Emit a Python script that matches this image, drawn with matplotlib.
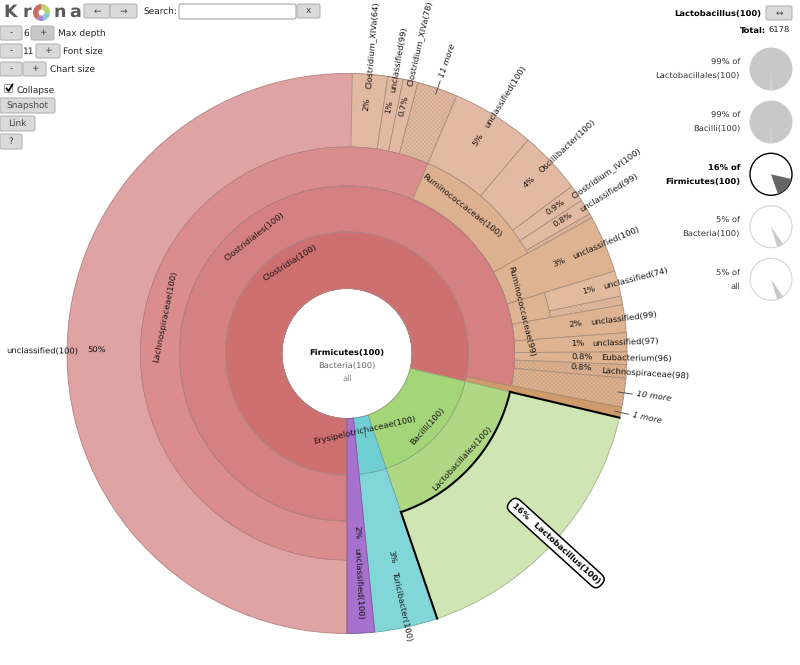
import numpy as np
import matplotlib
matplotlib.use("Agg")
import matplotlib.pyplot as plt
from matplotlib.patches import Wedge, Circle, FancyBboxPatch

# Share of the whole circle (percent), clockwise from 6 o'clock
lachno_names = ["unclassified(100)", "Clostridium_XIVa(64)", "unclassified(99)", "Clostridium_XIVa(78)", "11 more"]
lachno_pct = ["50%", "2%", "1%", "0.7%", ""]
lachno_share = [50.3, 2.03, 0.89, 0.86, 2.33]

rumino_names = ["unclassified(100)", "Oscillibacter(100)", "Clostridium_IV(100)", "unclassified(99)", ""]
rumino_pct = ["5%", "4%", "0.9%", "0.8%", ""]
rumino_share = [4.78, 3.64, 0.97, 0.89, 0.25]

rumino99_names = ["unclassified(74)", ""]
rumino99_pct = ["1%", ""]
rumino99_share = [1.47, 0.5]

# leaves that start right after Clostridiales
upper_name = "unclassified(100)"
upper_pct = "3%"
upper_share = 3.3
lower_names = ["unclassified(99)", "unclassified(97)", "Eubacterium(96)", "Lachnospiraceae(98)", "10 more"]
lower_pct = ["2%", "1%", "0.8%", "0.8%", ""]
lower_share = [1.6, 1.1, 0.72, 0.78, 1.67]
one_more_share = 0.6

lacto_share = 16.1
turici_share = 3.64
purple_share = 1.58

panel_names = ["Lactobacillales(100)", "Bacilli(100)", "Firmicutes(100)", "Bacteria(100)", "all"]
panel_pct = [99, 99, 16, 5, 5]
panel_start = [181.5, 181.5, 103, 145, 145]

# ring edges in pixels
R0, R1, R2, R3, R4 = 65, 121.5, 167.5, 206.5, 280
CX, CY = 347, 353.5
FS = 6.05
FS_UI = 6.5
FS_BOLD = 6.0

plt.rcParams["font.family"] = "DejaVu Sans"
plt.rcParams["hatch.linewidth"] = 0.35
plt.rcParams["text.hinting"] = "no_hinting"

fig = plt.figure(figsize=(8, 6.65), dpi=100)

# polar axes 800 px square, so r is in pixels
ax = fig.add_axes([(CX - 400) / 800, (665 - CY - 400) / 665, 1, 800 / 665], projection="polar")
ax.set_theta_zero_location("N")
ax.set_theta_direction(-1)
ax.set_rlim(0, 400)
ax.axis("off")


def sector(a, b, r_in, r_out, color, edge, hatch=None, lw=0.6):
    ax.bar(np.radians((a + b) / 2), r_out - r_in, width=np.radians(b - a), bottom=r_in,
           color=color, edgecolor=edge, linewidth=lw, hatch=hatch)


def radial_label(mid, r_in, pct, name):
    # same placement rule for every leaf
    rp = (r_in + R4) / 2 + 7
    if len(pct) == 4:
        rp += 4
    rn = rp + {0: 0, 2: 15, 3: 18, 4: 20}[len(pct)]
    m = mid % 360
    if m <= 180:
        rot, ha = 90 - m, "left"
    else:
        rot, ha = 270 - m, "right"
    ax.text(np.radians(m), rp, pct, rotation=rot, rotation_mode="anchor", ha="center", va="center",
            fontsize=FS, color="#111111", clip_on=False)
    ax.text(np.radians(m), rn, name, rotation=rot, rotation_mode="anchor", ha=ha, va="center",
            fontsize=FS, color="#111111", clip_on=False)


def more_label(mid, text):
    m = mid % 360
    ax.plot(np.radians([m, m]), [R4 - 6, R4 + 8], color="#555555", lw=0.7, clip_on=False)
    ax.text(np.radians(m), R4 + 12, text, rotation=90 - m, rotation_mode="anchor", ha="left", va="center",
            fontsize=FS, style="italic", color="#111111", clip_on=False)


def leaves(a, names, pct, share, r_in, color, edge, hatch_color="#CDA68F"):
    for n, p, s in zip(names, pct, share):
        b = a + s * 3.6
        if p == "":
            sector(a, b, r_in, R4, color, hatch_color, hatch="xxxxxxxx", lw=0)
            sector(a, b, r_in, R4, "none", edge)
            if n:
                more_label((a + b) / 2, n)
        else:
            sector(a, b, r_in, R4, color, edge)
            radial_label((a + b) / 2, r_in, p, n)
        a = b
    return a


tan_edge = "#A98F7C"
red_edge = "#B58080"

# Lachnospiraceae family
a0 = 180
a1 = a0 + sum(lachno_share) * 3.6
sector(a0, a1, R3, R4, "#DFA3A3", red_edge)
leaves(a0 + lachno_share[0] * 3.6, lachno_names[1:], lachno_pct[1:], lachno_share[1:], R3, "#E2B9A3", tan_edge)
radial_label(a0 + lachno_share[0] * 1.8, R3, lachno_pct[0], lachno_names[0])
sector(a0, a1, R2, R3, "#DB8D8D", red_edge)

# Ruminococcaceae(100)
a2 = leaves(a1, rumino_names, rumino_pct, rumino_share, R3, "#E2B9A3", tan_edge)
sector(a1, a2, R2, R3, "#DDB08F", tan_edge)

# 3% leaf
a3 = a2 + upper_share * 3.6
sector(a2, a3, R2, R4, "#DDB391", tan_edge)
radial_label((a2 + a3) / 2, R2, upper_pct, upper_name)

# Ruminococcaceae(99)
a4 = leaves(a3, rumino99_names, rumino99_pct, rumino99_share, R3, "#E2BB9F", tan_edge)
sector(a3, a4, R2, R3, "#DDB391", tan_edge)
a_r99 = (a3 + a4) / 2

# rest of Clostridiales children
a5 = a4
for n, p, s in zip(lower_names, lower_pct, lower_share):
    b = a5 + s * 3.6
    hatched = n.startswith("Lachno") or p == ""
    if hatched:
        sector(a5, b, R2, R4, "#DDB391", "#C89F80", hatch="xxxxxxxx", lw=0)
        sector(a5, b, R2, R4, "none", tan_edge)
    else:
        sector(a5, b, R2, R4, "#DDB391", tan_edge)
    if p:
        radial_label((a5 + b) / 2, R2, p, n)
    else:
        more_label((a5 + b) / 2, n)
    a5 = b

# Clostridiales ring and the strip next to it
sector(180, a5 + 360, R1, R2, "#D68181", red_edge)
a6 = a5 + one_more_share * 3.6
sector(a5, a6, R1, R4, "#CF9B6C", "#A98A66")
more_label((a5 + a6) / 2, "1 more")
sector(180, a6 + 360, R0, R1, "#CE7070", red_edge)

# Bacilli side
a7 = a6 + lacto_share * 3.6
sector(a6, a7, R0, R1, "#A5D579", "#8FAF72")
sector(a6, a7, R1, R2, "#AFD784", "#8FAF72")
sector(a6, a7, R2, R4, "#CFE6B4", "#A2B58C")
a8 = a7 + turici_share * 3.6
sector(a7, a8, R0, R1, "#70CFD3", "#6AA8AA")
sector(a7, a8, R1, R4, "#83D6D8", "#6AA8AA")
a9 = a8 + purple_share * 3.6
sector(a8, a9, R0, R4, "#A672CE", "#7C58A0")
radial_label((a7 + a8) / 2, R1, "3%", "Turicibacter(100)")
radial_label((a8 + a9) / 2, R0, "2%", "unclassified(100)")

# selected wedge outline: inner arc and both sides
th = np.radians(np.linspace(a6, a7, 120))
ax.plot(th, np.full(th.shape, R2), color="black", lw=1.5, clip_on=False)
ax.plot(np.radians([a6, a6]), [R2, R4], color="black", lw=1.5, clip_on=False)
ax.plot(np.radians([a7, a7]), [R2, R4], color="black", lw=1.5, clip_on=False)

# tangential labels of the inner rings
ring_labels = ["Clostridia(100)", "Clostridiales(100)", "Lachnospiraceae(100)", "Ruminococcaceae(100)",
               "Ruminococcaceae(99)", "Bacilli(100)", "Lactobacillales(100)", "Erysipelotrichaceae(100)"]
ring_theta = [328, 321.8, 281.4, 38, a_r99, 132, 132.3, 167.3]
ring_r = [107, 149, 186, 187, 179, 109, 156, 78]
for t, th_l, r_l in zip(ring_labels, ring_theta, ring_r):
    rot = 180 - th_l if 90 < th_l < 270 else -th_l
    ax.text(np.radians(th_l), r_l, t, rotation=rot, rotation_mode="anchor", ha="center", va="center",
            fontsize=FS, color="#111111", clip_on=False)
ax.plot(np.radians([167.3, 167.3]), [82, 86], color="#555555", lw=0.7)

# bubble of the selected wedge
ax.text(np.radians((a6 + a7) / 2), 282, "16%   Lactobacillus(100)", rotation=90 - (a6 + a7) / 2,
        rotation_mode="anchor", ha="center", va="center", fontsize=FS_BOLD, fontweight="bold", color="black",
        bbox=dict(boxstyle="round,pad=0.45,rounding_size=0.8", fc="white", ec="black", lw=1.1), clip_on=False)

# overlay in pixel coordinates for the page controls
ui = fig.add_axes([0, 0, 1, 1], facecolor="none")
ui.set_xlim(0, 800)
ui.set_ylim(665, 0)
ui.axis("off")

ui.text(CX, 352.7, "Firmicutes(100)", ha="center", va="center", fontsize=FS_BOLD, fontweight="bold", color="black")
ui.text(CX, 365.5, "Bacteria(100)", ha="center", va="center", fontsize=FS, color="#666666")
ui.text(CX, 379, "all", ha="center", va="center", fontsize=FS, color="#888888")


def button(x0, y0, x1, y1, label="", fill="#D9D9D9"):
    ui.add_patch(FancyBboxPatch((x0 + 1, y0 + 1), x1 - x0 - 2, y1 - y0 - 2, boxstyle="round,pad=1,rounding_size=2",
                                fc=fill, ec="#B4B4B4", lw=0.8))
    if label:
        ui.text((x0 + x1) / 2, (y0 + y1) / 2, label, ha="center", va="center", fontsize=FS_UI, color="#444444")


def ui_text(x, y, s, **kw):
    ui.text(x, y, s, va="center", fontsize=FS_UI, color="#222222", **kw)


# logo
for ch, x in zip("Krna", [3, 22.5, 54, 69]):
    ui.text(x, 12, ch, ha="left", va="center", fontsize=12.6, fontweight="bold", color="#5A5A5A")
logo_colors = ["#B9D46C", "#7FCFCB", "#A884D2", "#C96F62"]
logo_share = [27, 18, 15, 40]
t0 = -90
for c, s in zip(logo_colors, logo_share):
    ui.add_patch(Wedge((41.5, 12.5), 8.5, t0, t0 + s * 3.6, fc=c, ec="none"))
    t0 += s * 3.6
ui.add_patch(Circle((41.5, 12.5), 3, fc="white", ec="none"))

button(84, 4, 110, 18, "←")
button(110, 4, 137, 18, "→")
ui_text(143, 11, "Search:")
ui.add_patch(FancyBboxPatch((180, 5), 115, 13, boxstyle="round,pad=1,rounding_size=2", fc="white", ec="#A8A8A8", lw=0.8))
button(297, 4, 320, 18, "x")

button(0, 26, 22, 40, "-")
ui_text(26, 33.5, "6", ha="center")
button(31, 26, 54, 40, "+", fill="#C8C8C8")
ui_text(58, 33.5, "Max depth")
button(0, 44, 22, 58, "-")
ui_text(27.5, 51.5, "11", ha="center")
button(36, 44, 60, 58, "+")
ui_text(63, 51.5, "Font size")
button(0, 62, 22, 76, "-")
button(23, 62, 46, 76, "+")
ui_text(50, 69.5, "Chart size")

ui.add_patch(FancyBboxPatch((5, 85), 7, 7, boxstyle="round,pad=0.5,rounding_size=1", fc="white", ec="#999999", lw=0.7))
ui.plot([6.5, 8.5, 12.5], [88.5, 91, 84.5], color="black", lw=1.3)
ui_text(16.5, 90.5, "Collapse")
button(0, 98, 55, 113, "Snapshot")
button(0, 116, 35, 131, "Link")
button(0, 134, 22, 149, "?")

# right hand panel
ui.text(761.5, 13.5, "Lactobacillus(100)", ha="right", va="center", fontsize=FS_BOLD, fontweight="bold", color="black")
button(766, 6, 792, 20, "↔")
ui.text(766, 30.5, "Total:", ha="right", va="center", fontsize=FS_BOLD, fontweight="bold", color="black")
ui.text(790, 30.5, "6178", ha="right", va="center", fontsize=FS, color="#222222")

pie_y = [69, 122, 174.3, 226.7, 279.3]
for i, (n, p, s, y) in enumerate(zip(panel_names, panel_pct, panel_start, pie_y)):
    sel = i == 2
    tcol = "black" if sel else "#333333"
    w = "bold" if sel else "normal"
    fs = FS_BOLD if sel else FS
    ui.text(740, y - 7, "%d%% of" % p, ha="right", va="center", fontsize=fs, fontweight=w, color=tcol)
    ui.text(740, y + 7, n, ha="right", va="center", fontsize=fs, fontweight=w, color=tcol)
    ui.add_patch(Circle((771, y), 21, fc="white" if p < 50 else "#D8D8D8", ec="black" if sel else "#D4D4D4",
                        lw=1.0 if sel else 0.8))
    ui.add_patch(Wedge((771, y), 21, s - 90, s - 90 + p * 3.6, fc="#666666" if sel else "#C8C8C8", ec="none"))

plt.savefig("out.png", dpi=100)
